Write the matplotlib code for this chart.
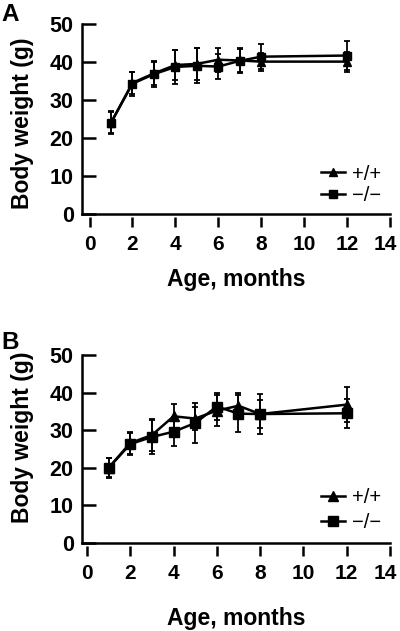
import matplotlib
import numpy as np

matplotlib.use('Agg')
from matplotlib import pyplot as plt
from matplotlib.lines import Line2D
from matplotlib.transforms import ScaledTranslation

plt.rcParams['font.family'] = ['Liberation Sans', 'DejaVu Sans']

months = [1, 2, 3, 4, 5, 6, 7, 8, 12]

# panel A
a_wt = [24.0, 34.5, 37.0, 39.2, 39.5, 40.6, 40.4, 40.1, 40.1]
a_wt_sd = [2.8, 3.0, 3.0, 4.0, 4.2, 3.1, 3.0, 2.4, 2.6]
a_ko = [24.0, 34.3, 36.8, 38.7, 39.0, 38.8, 40.3, 41.4, 41.7]
a_ko_sd = [3.0, 3.2, 3.4, 4.5, 4.6, 3.4, 3.3, 3.3, 3.8]

# panel B
b_wt = [20.0, 26.6, 28.7, 33.7, 33.1, 35.2, 36.5, 34.3, 36.8]
b_wt_sd = [2.5, 2.8, 4.3, 3.3, 3.0, 4.2, 3.3, 3.7, 4.6]
b_ko = [20.0, 26.3, 28.2, 29.6, 31.9, 36.3, 34.4, 34.3, 34.5]
b_ko_sd = [2.7, 3.0, 4.4, 3.9, 5.4, 3.7, 5.0, 5.2, 3.9]

labels = ["+/+", "\u2212/\u2212"]
xticks = [0, 2, 4, 6, 8, 10, 12, 14]
yticks = [0, 10, 20, 30, 40, 50]

W, H = 400, 631
fig = plt.figure(figsize=(W / 100, H / 100), dpi=100)


def panel(rect, wt, wt_sd, ko, ko_sd, xmin, ms, lab_y, xlab_y, leg_y, spacing, letter, letter_y):
    ax = fig.add_axes(rect)
    kw = dict(color="k", lw=1.8, ms=ms, capsize=2.5, elinewidth=1.3, capthick=1.3, clip_on=False)
    ax.errorbar(months, wt, yerr=wt_sd, marker="^", **kw)
    ax.errorbar(months, ko, yerr=ko_sd, marker="s", **kw)
    ax.set_xlim(xmin, 14)
    ax.set_ylim(0, 50)
    ax.set_xticks(xticks)
    ax.set_yticks(yticks)
    for s in ("top", "right"):
        ax.spines[s].set_visible(False)
    ax.spines["left"].set_linewidth(1.8)
    ax.spines["bottom"].set_position(("outward", 2))
    ax.spines["bottom"].set_visible(False)
    ax.axhline(0, color="k", lw=1.8, clip_on=False)
    ax.tick_params(axis="y", direction="in", length=10, width=1.8, pad=6, labelsize=15.5)
    ax.tick_params(axis="x", direction="out", length=7, width=1.8, pad=6, labelsize=15)
    for t in ax.get_xticklabels() + ax.get_yticklabels():
        t.set_fontweight("bold")
    # last tick label is pushed in a little so it stays on the page
    last = ax.get_xticklabels()[-1]
    last.set_transform(last.get_transform() + ScaledTranslation(-0.045, 0, fig.dpi_scale_trans))
    ax.set_ylabel("Body weight (g)", fontsize=16.5, fontweight="bold")
    ax.yaxis.set_label_coords(-0.156, lab_y)
    ax.set_xlabel("Age, months", fontsize=16.5, fontweight="bold")
    ax.xaxis.set_label_coords(0.5, xlab_y)
    handles = [Line2D([], [], color="k", lw=1.8, marker=m, ms=ms) for m in ("^", "s")]
    ax.legend(handles, labels, loc="center left", bbox_to_anchor=(0.775, leg_y), frameon=False,
              fontsize=14.5, handlelength=1.2, handletextpad=0.35, labelspacing=spacing,
              borderpad=0, borderaxespad=0)
    fig.text(0.003, letter_y, letter, fontsize=17.5, fontweight="bold", va="top")
    return ax


panel([82 / W, 1 - 214 / H, 308 / W, 190 / H], a_wt, a_wt_sd, a_ko, a_ko_sd,
      -0.35, 5.5, 0.479, -0.284, 0.155, 0.1, "A", 1 - 3 / H)
panel([82 / W, 1 - 543 / H, 308 / W, 188 / H], b_wt, b_wt_sd, b_ko, b_ko_sd,
      -0.23, 7.5, 0.564, -0.343, 0.173, 0.3, "B", 1 - 331 / H)

fig.savefig("out.png", dpi=100)
